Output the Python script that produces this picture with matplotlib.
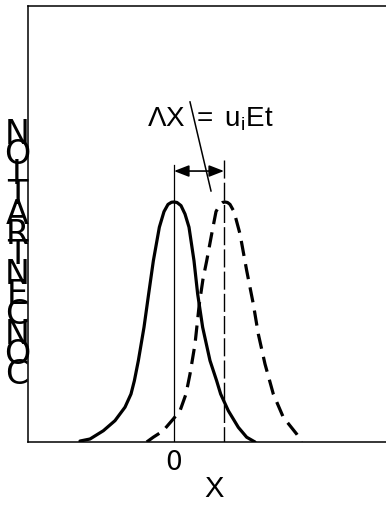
import matplotlib
matplotlib.use("Agg")
import matplotlib.pyplot as plt

plt.rcParams['lines.scale_dashes'] = False
plt.rcParams['mathtext.fontset'] = 'custom'
plt.rcParams['mathtext.rm'] = 'Liberation Sans'
plt.rcParams['mathtext.it'] = 'Liberation Sans'

# --- data ---
initial_x = [-1.88, -1.68, -1.413, -1.18, -0.98, -0.86, -0.793, -0.713, -0.6, -0.507,
             -0.413, -0.293, -0.2, -0.12, -0.05, 0.0, 0.06, 0.14, 0.22, 0.3, 0.4,
             0.473, 0.573, 0.72, 0.853, 0.933, 1.087, 1.287, 1.453, 1.62]
initial_y = [0.004, 0.0125, 0.047, 0.089, 0.145, 0.2, 0.255, 0.339, 0.478, 0.617,
             0.755, 0.895, 0.96, 0.99, 0.999, 1.0, 0.998, 0.985, 0.95, 0.895, 0.755,
             0.617, 0.478, 0.339, 0.255, 0.2, 0.13, 0.061, 0.02, 0.0]

shifted_x = [-0.546, -0.414, -0.22, -0.014, 0.12, 0.24, 0.32, 0.42, 0.506, 0.58, 0.654,
             0.754, 0.84, 0.92, 0.97, 1.02, 1.07, 1.12, 1.2, 1.32, 1.454, 1.586, 1.686,
             1.82, 1.986, 2.186, 2.454, 2.554]
shifted_y = [0.0, 0.02, 0.046, 0.096, 0.13, 0.2, 0.283, 0.408, 0.575, 0.679, 0.755,
             0.867, 0.96, 0.99, 0.998, 1.0, 0.998, 0.99, 0.96, 0.867, 0.714, 0.575,
             0.45, 0.325, 0.2, 0.103, 0.033, 0.0]

peak_initial = 0.0
peak_shifted = 1.0
tick_positions = [0.0]
tick_labels = ["0"]
ylabel_letters = list("NOITARTNECNOC")
annotation = r"$\mathrm{\Lambda X\ =\ u_{i}Et}$"

# --- figure ---
W, H = 386, 506
fig = plt.figure(figsize=(W / 100, H / 100), dpi=100)
ax = fig.add_axes([28 / W, 63 / H, 358 / W, 436 / H])
ax.set_xlim(-2.92, 4.24)
ax.set_ylim(0, 1.8167)

ax.spines['right'].set_visible(False)
for s in ['left', 'top', 'bottom']:
    ax.spines[s].set_linewidth(1.1)

ax.plot(initial_x, initial_y, color='black', lw=2.3, solid_joinstyle='round',
        solid_capstyle='round')
ax.plot(shifted_x, shifted_y, color='black', lw=2.3, dashes=(11, 6),
        dash_capstyle='butt', dash_joinstyle='round')

# marker lines at the peaks
ax.plot([peak_initial, peak_initial], [1.154, 0], color='black', lw=0.9)
ax.plot([peak_shifted, peak_shifted], [1.175, 0], color='black', lw=1.0,
        dashes=(13, 3))

# double arrow
ax.annotate('', xy=(peak_shifted, 1.129), xytext=(peak_initial, 1.129),
            arrowprops=dict(arrowstyle='<|-|>,head_length=0.9,head_width=0.35',
                            color='black', lw=1.2, shrinkA=0, shrinkB=0))

# pointer line
ax.plot([0.32, 0.74], [1.417, 1.046], color='black', lw=1.1)

ax.text(-0.54, 1.317, annotation, fontsize=20, ha='left', va='baseline')

ax.set_xticks(tick_positions)
ax.set_xticklabels(tick_labels, family='Liberation Sans Narrow', fontsize=19)
ax.tick_params(axis='x', length=0, pad=5)
ax.set_yticks([])

fig.text(214 / W, 1 - 489 / H, "X", family='Liberation Sans', fontsize=21,
         ha='center', va='center')

# stacked y-axis label letters
for i, ch in enumerate(ylabel_letters):
    yc = 135 + i * 20
    fig.text(17 / W, 1 - yc / H, ch, family='Liberation Sans Narrow', fontsize=24,
             ha='center', va='center')

fig.savefig('out.png', dpi=100)
